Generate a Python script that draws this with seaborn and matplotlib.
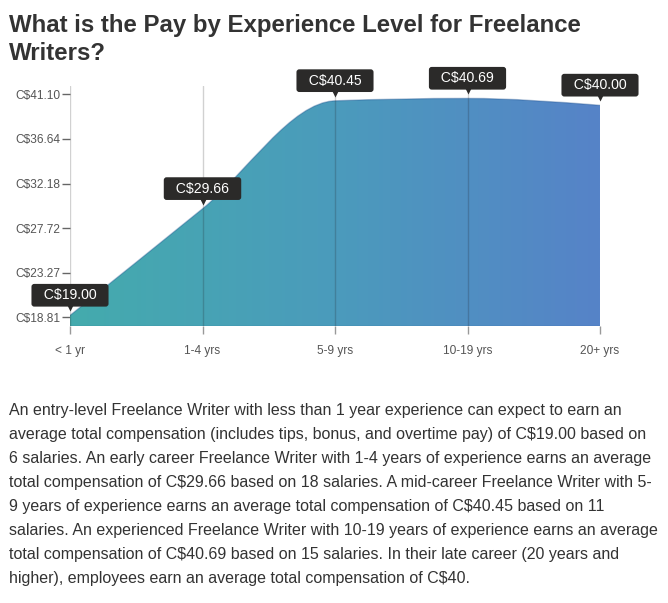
import numpy as np
import matplotlib
matplotlib.use("Agg")
import matplotlib.pyplot as plt
import matplotlib.transforms as mtransforms
from matplotlib.path import Path
from matplotlib.patches import PathPatch
from matplotlib.colors import LinearSegmentedColormap
import seaborn as sns

# chart data
levels = ["< 1 yr", "1-4 yrs", "5-9 yrs", "10-19 yrs", "20+ yrs"]
pay = [19.00, 29.66, 40.45, 40.69, 40.00]
pay_labels = ["C$19.00", "C$29.66", "C$40.45", "C$40.69", "C$40.00"]
ytick_vals = [18.81, 23.27, 27.72, 32.18, 36.64, 41.10]
y_min, y_max = 17.94, 41.93

title = "What is the Pay by Experience Level for Freelance\nWriters?"
paragraph = [
    "An entry-level Freelance Writer with less than 1 year experience can expect to earn an",
    "average total compensation (includes tips, bonus, and overtime pay) of C$19.00 based on",
    "6 salaries. An early career Freelance Writer with 1-4 years of experience earns an average",
    "total compensation of C$29.66 based on 18 salaries. A mid-career Freelance Writer with 5-",
    "9 years of experience earns an average total compensation of C$40.45 based on 11",
    "salaries. An experienced Freelance Writer with 10-19 years of experience earns an average",
    "total compensation of C$40.69 based on 15 salaries. In their late career (20 years and",
    "higher), employees earn an average total compensation of C$40.",
]

sns.set_theme(style="white")
plt.rcParams['font.family'] = ['Liberation Sans', 'DejaVu Sans']


# d3 style monotone-x curve, built as bezier segments
def monotone_path(x, y, base):
    x = np.asarray(x, float)
    y = np.asarray(y, float)
    h = np.diff(x)
    s = np.diff(y) / h
    t = np.zeros(len(x))
    for i in range(1, len(x) - 1):
        p = (s[i - 1] * h[i] + s[i] * h[i - 1]) / (h[i - 1] + h[i])
        t[i] = (np.sign(s[i - 1]) + np.sign(s[i])) * min(abs(s[i - 1]), abs(s[i]), 0.5 * abs(p))
    t[0] = (3 * s[0] - t[1]) / 2
    t[-1] = (3 * s[-1] - t[-2]) / 2
    verts = [(x[0], y[0])]
    codes = [Path.MOVETO]
    for i in range(len(x) - 1):
        dx = h[i] / 3
        verts += [(x[i] + dx, y[i] + dx * t[i]), (x[i + 1] - dx, y[i + 1] - dx * t[i + 1]), (x[i + 1], y[i + 1])]
        codes += [Path.CURVE4] * 3
    top = Path(verts, codes)
    verts_area = verts + [(x[-1], base), (x[0], base), (x[0], y[0])]
    codes_area = codes + [Path.LINETO, Path.LINETO, Path.CLOSEPOLY]
    return top, Path(verts_area, codes_area)


fig = plt.figure(figsize=(6.68, 6.03), dpi=100)
ax = fig.add_axes([70 / 668, 1 - 326 / 603, 530 / 668, 240 / 603])

xpos = np.arange(len(levels))
top_path, area_path = monotone_path(xpos, pay, y_min)

area = PathPatch(area_path, fc='none', ec='none')
ax.add_patch(area)
cmap = LinearSegmentedColormap.from_list('pay', ['#44abad', '#4b9bbc', '#5683c8'])
grad = ax.imshow(np.linspace(0, 1, 256).reshape(1, -1), cmap=cmap, aspect='auto',
                 extent=[0, len(levels) - 1, y_min, y_max], zorder=1)
grad.set_clip_path(area)
ax.add_patch(PathPatch(top_path, fc='none', ec=(0.1, 0.3, 0.55, 0.35), lw=1, zorder=2))
ax.plot([0, len(levels) - 1], [y_min, y_min], color=(0.1, 0.35, 0.55, 0.35), lw=1, zorder=2)

for xi in xpos[:-1]:
    ax.axvline(xi, color='k', alpha=0.2, lw=1, zorder=3)

ax.set_xlim(0, len(levels) - 1)
ax.set_ylim(y_min, y_max)
ax.set_xticks(xpos)
ax.set_xticklabels(levels)
ax.set_yticks(ytick_vals)
ax.set_yticklabels(["C$%.2f" % v for v in ytick_vals])
ax.tick_params(axis='y', length=5.5, width=1, color='#666', pad=1.5, labelsize=8.6, labelcolor='#555', left=True)
ax.tick_params(axis='x', length=5.5, width=1, color='#999', pad=8.5, labelsize=8.6, labelcolor='#555', bottom=True)
sns.despine(ax=ax, left=True, bottom=True)
ax.patch.set_alpha(0)

pointer = mtransforms.offset_copy(ax.transData, fig=fig, x=0, y=8, units='dots')
for xi, yi, lab in zip(xpos, pay, pay_labels):
    ax.plot(xi, yi, marker='v', ms=5.5, color='#2b2a29', mec='none', transform=pointer,
            clip_on=False, zorder=6)
    ax.annotate("  " + lab + "  ", (xi, yi), xytext=(0, 14.5), textcoords='offset points',
                ha='center', va='center', color='white', fontsize=10.1, zorder=7,
                annotation_clip=False,
                bbox=dict(boxstyle='round,pad=0.31,rounding_size=0.2', fc='#2b2a29', ec='none'))

for i, line in enumerate(title.split("\n")):
    fig.text(9 / 668, 1 - (32.3 + i * 27.8) / 603, line, ha='left', va='baseline',
             fontsize=17.3, fontweight='bold', color='#333')

for i, line in enumerate(paragraph):
    fig.text(9 / 668, 1 - (411 + i * 23.86) / 603, line, ha='left', va='center',
             fontsize=11.5, color='#333')

fig.savefig('out.png', dpi=100)
